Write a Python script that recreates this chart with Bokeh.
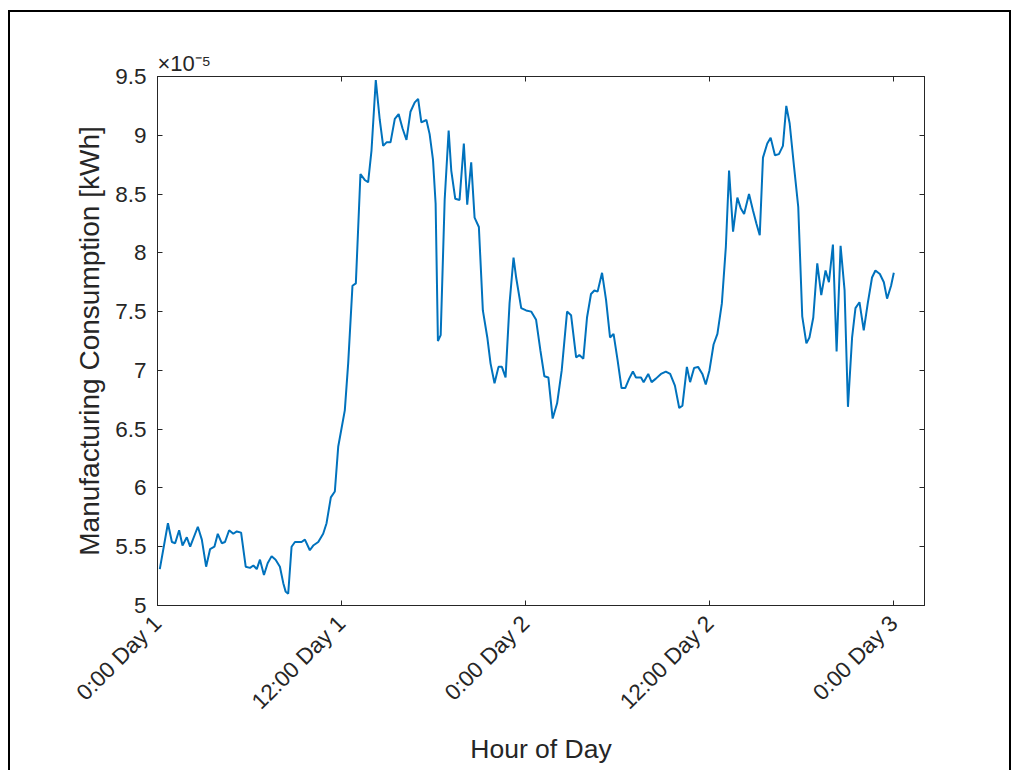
import math
from bokeh.plotting import figure
from bokeh.models import LinearAxis, FixedTicker, Range1d
from bokeh.embed import file_html
from bokeh.resources import INLINE

# Hours since 0:00 Day 1
hours = [0.15, 0.68, 0.94, 1.15, 1.41, 1.63, 1.91, 2.13, 2.63, 2.89, 3.17, 3.43, 3.71, 3.93,
         4.19, 4.40, 4.67, 4.94, 5.17, 5.45, 5.75, 6.03, 6.25, 6.47, 6.68, 6.94, 7.18, 7.44,
         7.70, 7.98, 8.20, 8.35, 8.52, 8.74, 8.96, 9.39, 9.61, 9.93, 10.15, 10.48, 10.80,
         11.02, 11.30, 11.56, 11.78, 12.21, 12.43, 12.71, 12.93, 13.23, 13.51, 13.73, 13.95,
         14.23, 14.49, 14.71, 14.93, 15.19, 15.47, 15.72, 15.97, 16.23, 16.49, 16.77, 16.99,
         17.20, 17.53, 17.74, 17.96, 18.13, 18.28, 18.46, 18.72, 18.98, 19.15, 19.41, 19.69,
         19.97, 20.19, 20.45, 20.67, 20.95, 21.21, 21.50, 21.71, 21.97, 22.23, 22.45, 22.69,
         22.95, 23.21, 23.38, 23.71, 24.03, 24.36, 24.68, 24.96, 25.22, 25.48, 25.76, 26.05,
         26.35, 26.70, 26.96, 27.29, 27.50, 27.76, 28.00, 28.26, 28.48, 28.69, 28.98, 29.24,
         29.50, 29.73, 29.99, 30.25, 30.49, 30.75, 30.99, 31.19, 31.52, 31.69, 31.99, 32.21,
         32.49, 32.82, 33.14, 33.42, 33.73, 34.01, 34.22, 34.51, 34.72, 34.98, 35.24, 35.52,
         35.74, 35.98, 36.25, 36.50, 36.79, 37.05, 37.26, 37.52, 37.80, 38.02, 38.24, 38.56,
         38.82, 39.04, 39.26, 39.47, 39.75, 39.97, 40.25, 40.51, 40.77, 40.99, 41.21, 41.49,
         41.77, 42.03, 42.30, 42.50, 42.75, 43.01, 43.27, 43.55, 43.77, 44.03, 44.27, 44.53,
         44.79, 45.01, 45.28, 45.50, 45.76, 46.04, 46.30, 46.58, 46.80, 47.09, 47.35, 47.56,
         47.82, 48.00]

# Manufacturing consumption in units of 1e-5 kWh
consumption_e5 = [5.31, 5.70, 5.54, 5.53, 5.64, 5.51, 5.58, 5.50, 5.67, 5.56, 5.33, 5.48, 5.50, 5.61,
                  5.53, 5.54, 5.64, 5.61, 5.63, 5.62, 5.33, 5.32, 5.34, 5.31, 5.39, 5.26, 5.36, 5.42,
                  5.39, 5.33, 5.19, 5.12, 5.10, 5.50, 5.54, 5.54, 5.56, 5.47, 5.51, 5.54, 5.61,
                  5.70, 5.92, 5.97, 6.35, 6.66, 7.06, 7.72, 7.74, 8.67, 8.62, 8.60, 8.87,
                  9.47, 9.13, 8.91, 8.94, 8.94, 9.14, 9.18, 9.06, 8.96, 9.20, 9.28, 9.31,
                  9.11, 9.13, 9.01, 8.79, 8.42, 7.25, 7.30, 8.45, 9.04, 8.70, 8.46, 8.45,
                  8.93, 8.41, 8.77, 8.30, 8.22, 7.51, 7.28, 7.06, 6.89, 7.03, 7.03, 6.94,
                  7.57, 7.96, 7.79, 7.53, 7.51, 7.50, 7.43, 7.17, 6.95, 6.94, 6.59, 6.72,
                  7.00, 7.50, 7.47, 7.11, 7.13, 7.10, 7.45, 7.65, 7.68, 7.67, 7.83, 7.60,
                  7.28, 7.31, 7.09, 6.85, 6.85, 6.93, 6.99, 6.94, 6.94, 6.90, 6.97, 6.90,
                  6.93, 6.97, 6.99, 6.97, 6.87, 6.68, 6.70, 7.03, 6.90, 7.02, 7.03, 6.97,
                  6.88, 7.00, 7.22, 7.31, 7.57, 8.05, 8.70, 8.18, 8.47, 8.38, 8.33, 8.50,
                  8.36, 8.25, 8.15, 8.81, 8.93, 8.98, 8.83, 8.84, 8.91, 9.25, 9.10, 8.74,
                  8.39, 7.46, 7.23, 7.28, 7.45, 7.91, 7.64, 7.85, 7.75, 8.07, 7.16, 8.06,
                  7.68, 6.69, 7.28, 7.53, 7.58, 7.34, 7.57, 7.79, 7.85, 7.82, 7.75, 7.61,
                  7.72, 7.83]

x_ticks = [0, 12, 24, 36, 48]
x_tick_labels = ["0:00 Day 1", "12:00 Day 1", "0:00 Day 2", "12:00 Day 2", "0:00 Day 3"]
y_ticks = [5, 5.5, 6, 6.5, 7, 7.5, 8, 8.5, 9, 9.5]
y_tick_labels = ["5", "5.5", "6", "6.5", "7", "7.5", "8", "8.5", "9", "9.5"]
exponent_text = "\u00d710\u207b\u2075"

AX = "#262626"
FONT = "Liberation Sans"

p = figure(frame_width=767, frame_height=529,
           min_border_left=147, min_border_right=85, min_border_top=64, min_border_bottom=165,
           x_range=Range1d(0, 50), y_range=Range1d(5, 9.5),
           output_backend="svg", toolbar_location=None,
           x_axis_label="Hour of Day", y_axis_label="Manufacturing Consumption [kWh]")
p.margin = (10, 0, 0, 8)
p.styles = {"border-left": "2px solid black", "border-top": "2px solid black",
            "border-right": "2px solid black"}
p.grid.visible = False
p.outline_line_color = AX
p.outline_line_width = 1
p.background_fill_color = "white"
p.border_fill_color = "white"

p.line(hours, consumption_e5, line_color="#0072BD", line_width=2)

xa = p.xaxis[0]
xa.ticker = FixedTicker(ticks=x_ticks)
xa.major_label_overrides = {t: l for t, l in zip(x_ticks, x_tick_labels)}
xa.major_label_orientation = math.pi / 4
ya = p.yaxis[0]
ya.ticker = FixedTicker(ticks=y_ticks)
ya.major_label_overrides = {t: l for t, l in zip(y_ticks, y_tick_labels)}

for ax in (xa, ya):
    ax.axis_line_color = AX
    ax.major_tick_line_color = AX
    ax.major_tick_in = 5
    ax.major_tick_out = 0
    ax.minor_tick_line_color = None
    ax.major_label_text_font = FONT
    ax.major_label_text_font_size = "22.5px"
    ax.major_label_text_color = AX
    ax.axis_label_text_font = FONT
    ax.axis_label_text_font_style = "normal"
    ax.axis_label_text_color = AX
xa.axis_label_text_font_size = "26.5px"
ya.axis_label_text_font_size = "28px"
ya.major_label_standoff = 11
xa.major_label_standoff = 14
ya.axis_label_standoff = 7
xa.axis_label_standoff = 8

top = LinearAxis(ticker=FixedTicker(ticks=x_ticks), major_label_text_font_size="0px",
                 axis_line_color=AX, major_tick_line_color=AX, major_tick_in=5, major_tick_out=0,
                 minor_tick_line_color=None, major_label_standoff=0)
top.major_label_text_color = None
right = LinearAxis(ticker=FixedTicker(ticks=y_ticks), major_label_text_font_size="0px",
                   axis_line_color=AX, major_tick_line_color=AX, major_tick_in=5, major_tick_out=0,
                   minor_tick_line_color=None)
right.major_label_text_color = None
p.add_layout(top, "above")
p.add_layout(right, "right")

p.title.text = exponent_text
p.title.align = "left"
p.title.offset = 0
p.title.standoff = 2
p.title.text_font = FONT
p.title.text_font_size = "22px"
p.title.text_font_style = "normal"
p.title.text_color = AX

open("out.html", "w").write(file_html(p, INLINE))
